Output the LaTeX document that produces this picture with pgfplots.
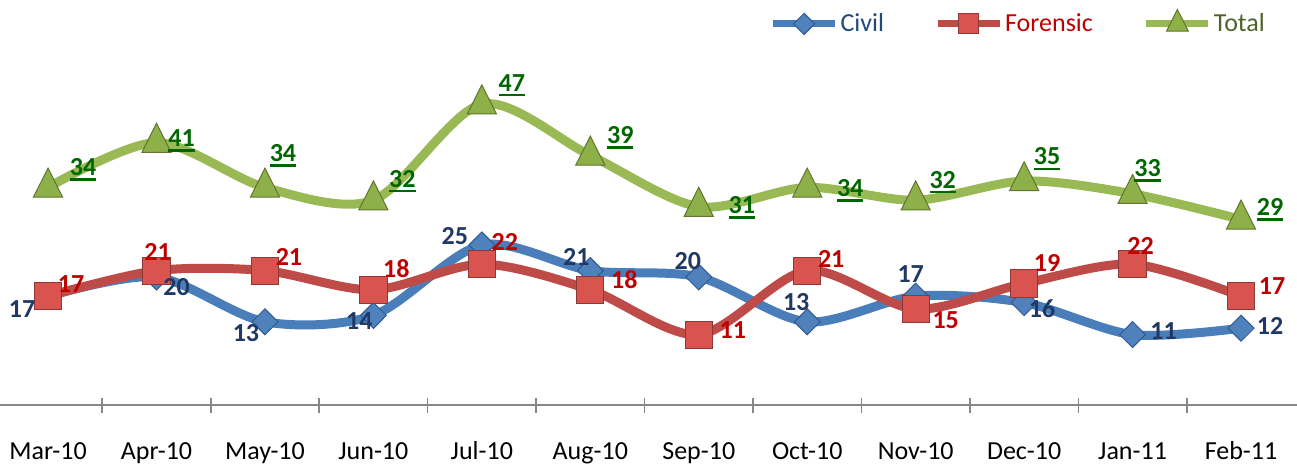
\documentclass[border=0pt]{standalone}
\usepackage{fontspec}
\setmainfont{Carlito}
\usepackage{pgfplots}
\usepackage{pgfplotstable}
\pgfplotsset{compat=1.18}
\definecolor{civline}{HTML}{4A7EBB}
\definecolor{civfill}{HTML}{4F81BD}
\definecolor{civedge}{HTML}{2E5A8E}
\definecolor{civlab}{HTML}{1F3864}
\definecolor{forline}{HTML}{BE4B48}
\definecolor{forfill}{HTML}{D9534F}
\definecolor{foredge}{HTML}{8C3836}
\definecolor{forlab}{HTML}{C00000}
\definecolor{totline}{HTML}{98B954}
\definecolor{totfill}{HTML}{8DB148}
\definecolor{totedge}{HTML}{5F7530}
\definecolor{totlab}{HTML}{006600}
\definecolor{totleg}{HTML}{4F6228}
\definecolor{civleg}{HTML}{1F497D}
\definecolor{axgray}{HTML}{878787}
\newcommand\ul[1]{\setbox0\hbox{#1}\rlap{\rule[-2.6pt]{\wd0}{1.3pt}}\box0}
\pgfplotstableread{
x y dx dy
0 17 -26 13
1 20 20 10
2 13 -19 11
3 14 -14 6
4 25 -27 -9
5 21 -14 -14
6 20 -11 -16
7 13 -11 -20
8 17 -5 -22
9 16 18 6
10 11 31 -4
11 12 29 -2
}\civil
\pgfplotstableread{
x y dx dy
0 17 23 -12
1 21 1 -19
2 21 24 -14
3 18 23 -21
4 22 23 -22
5 18 34 -10
6 11 34 -5
7 21 24 -12
8 15 30 11
9 19 23 -20
10 22 8 -18
11 17 31 -10
}\forensic
\pgfplotstableread{
x y dx dy
0 34 35 -18
1 41 25 -2
2 34 18 -32
3 32 29 -19
4 47 30 -19
5 39 30 -18
6 31 43 1
7 34 43 3
8 32 27 -18
9 35 23 -22
10 33 15 -23
11 29 29 -10
}\total
\begin{document}
\begin{tikzpicture}
\begin{axis}[
  scale only axis, width=648.5pt, height=192pt,
  at={(0,0)}, anchor=south west,
  xmin=-0.443, xmax=11.516, ymin=0, ymax=60,
  clip=false,
  axis x line*=bottom, axis y line=none,
  axis line style={axgray, line width=0.8pt},
  xtick={0,...,11},
  xticklabels={Mar-10,Apr-10,May-10,Jun-10,Jul-10,Aug-10,Sep-10,Oct-10,Nov-10,Dec-10,Jan-11,Feb-11},
  major tick length=0pt,
  minor xtick={0.5,1.5,2.5,3.5,4.5,5.5,6.5,7.5,8.5,9.5,10.5},
  minor tick length=7.5pt, tick align=center,
  minor tick style={axgray, line width=0.8pt},
  xticklabel style={font=\fontsize{13}{15}\selectfont, text height=9.5pt, text depth=3pt, yshift=-14pt},
  ytick=\empty,
  legend columns=3,
  legend style={at={(0.977,0.995)}, anchor=east, draw=none, fill=none, inner sep=0pt,
    font=\fontsize{13}{15}\selectfont,
    /tikz/every even column/.append style={column sep=24pt},
    nodes={inner sep=1pt}},
  legend image code/.code={\draw[mark repeat=2,mark phase=2,#1] plot coordinates {(0pt,0pt)(15.5pt,0pt)(31pt,0pt)};},
]
\addlegendimage{civline, line width=3.5pt, mark=diamond*, mark size=5.3pt,
  mark options={xscale=1.33, fill=civfill, draw=civedge, line width=0.5pt}}
\addlegendentry{\textcolor{civleg}{Civil}}
\addlegendimage{forline, line width=3.5pt, mark=square*, mark size=5pt,
  mark options={fill=forfill, draw=foredge, line width=0.5pt}}
\addlegendentry{\textcolor{forlab}{Forensic}}
\addlegendimage{totline, line width=3.5pt, mark=triangle*, mark size=6.3pt,
  mark options={yscale=1.15, fill=totfill, draw=totedge, line width=0.5pt}}
\addlegendentry{\textcolor{totleg}{Total}}
\addplot[forget plot, civline, line width=4.5pt, smooth, mark=diamond*, mark size=6.5pt,
  mark options={xscale=1.33, fill=civfill, draw=civedge, line width=0.5pt}]
  table[x=x,y=y]{\civil};
\addplot[forget plot, forline, line width=4.5pt, smooth, mark=square*, mark size=6.8pt,
  mark options={fill=forfill, draw=foredge, line width=0.5pt}]
  table[x=x,y=y]{\forensic};
\addplot[forget plot, totline, line width=4.5pt, smooth, mark=triangle*, mark size=8.4pt,
  mark options={yscale=1.15, fill=totfill, draw=totedge, line width=0.5pt}]
  table[x=x,y=y]{\total};
\addplot[draw=none, forget plot, nodes near coords={\textbf{\pgfplotspointmeta}},
  point meta=explicit symbolic,
  visualization depends on={\thisrow{dx}\as\dx},
  visualization depends on={\thisrow{dy}\as\dy},
  every node near coord/.append style={anchor=center, text=civlab, font=\fontsize{13}{15}\selectfont, xshift={\dx*0.5pt}, yshift={-\dy*0.5pt}}]
  table[x=x,y=y,meta=y]{\civil};
\addplot[draw=none, forget plot, nodes near coords={\textbf{\pgfplotspointmeta}},
  point meta=explicit symbolic,
  visualization depends on={\thisrow{dx}\as\dx},
  visualization depends on={\thisrow{dy}\as\dy},
  every node near coord/.append style={anchor=center, text=forlab, font=\fontsize{13}{15}\selectfont, xshift={\dx*0.5pt}, yshift={-\dy*0.5pt}}]
  table[x=x,y=y,meta=y]{\forensic};
\addplot[draw=none, forget plot, nodes near coords={\ul{\textbf{\pgfplotspointmeta}}},
  point meta=explicit symbolic,
  visualization depends on={\thisrow{dx}\as\dx},
  visualization depends on={\thisrow{dy}\as\dy},
  every node near coord/.append style={anchor=center, text=totlab, font=\fontsize{13}{15}\selectfont, xshift={\dx*0.5pt}, yshift={-\dy*0.5pt}}]
  table[x=x,y=y,meta=y]{\total};
\end{axis}
\pgfresetboundingbox
\path[use as bounding box] (0,-29pt) rectangle (648.5pt,202.5pt);
\end{tikzpicture}
\end{document}
